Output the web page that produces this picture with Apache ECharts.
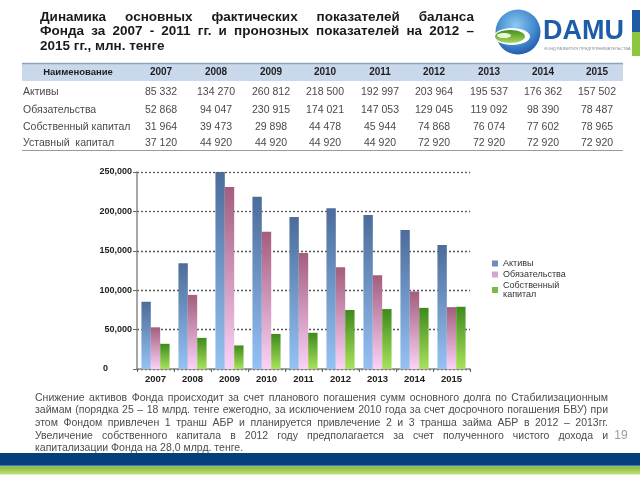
<!DOCTYPE html>
<html>
<head>
<meta charset="utf-8">
<script src="https://cdn.jsdelivr.net/npm/echarts@6/dist/echarts.min.js"></script>
<style>
html,body{margin:0;padding:0;background:#fff;}
#main{width:640px;height:480px;}
</style>
</head>
<body>
<div id="main"></div>
<script>
// ---- data ----
var years = ['2007','2008','2009','2010','2011','2012','2013','2014','2015'];
var assets = [85332, 134270, 260812, 218500, 192997, 203964, 195537, 176362, 157502];
var liabilities = [52868, 94047, 230915, 174021, 147053, 129045, 119092, 98390, 78487];
var equity = [31964, 39473, 29898, 44478, 45944, 74868, 76074, 77602, 78965];
var charterCapital = [37120, 44920, 44920, 44920, 44920, 72920, 72920, 72920, 72920];
var rowNames = ['Активы', 'Обязательства', 'Собственный капитал', 'Уставный  капитал'];
var headerName = 'Наименование';
var seriesNames = ['Активы', 'Обязательства', 'Собственный капитал'];
var yTicks = [0, 50000, 100000, 150000, 200000, 250000];

var titleLines = [
  'Динамика основных фактических показателей баланса',
  'Фонда за 2007 - 2011 гг. и пронозных показателей на 2012 –',
  '2015 гг., млн. тенге'
];
var paraLines = [
  'Снижение активов Фонда происходит за счет планового погашения сумм основного долга по Стабилизационным',
  'займам (порядка 25 – 18 млрд. тенге ежегодно, за исключением 2010 года за счет досрочного погашения БВУ) при',
  'этом Фондом привлечен 1 транш АБР и планируется привлечение 2 и 3 транша займа АБР в 2012 – 2013гг.',
  'Увеличение собственного капитала в 2012 году предполагается за счет полученного чистого дохода и',
  'капитализации Фонда на 28,0 млрд. тенге.'
];
var pageNo = '19';

// ---- helpers ----
var FF = '"Liberation Sans", Arial, sans-serif';
var mctx = document.createElement('canvas').getContext('2d');
function fmtSpace(v){ return String(v).replace(/\B(?=(\d{3})+(?!\d))/g, ' '); }
function fmtComma(v){ return String(v).replace(/\B(?=(\d{3})+(?!\d))/g, ','); }

function justify(text, x0, x1, y, size, weight, color, doJustify){
  var font = weight + ' ' + size + 'px ' + FF;
  mctx.font = font;
  var words = text.split(/\s+/);
  var els = [];
  if (!doJustify) {
    els.push({type:'text', x:x0, y:y, style:{text:text, font:font, fill:color, align:'left', verticalAlign:'middle'}});
    return els;
  }
  var widths = words.map(function(w){ return mctx.measureText(w).width; });
  var sum = widths.reduce(function(a,b){return a+b;},0);
  var gap = (x1 - x0 - sum) / (words.length - 1);
  var x = x0;
  words.forEach(function(w,i){
    els.push({type:'text', x:x, y:y, style:{text:w, font:font, fill:color, align:'left', verticalAlign:'middle'}});
    x += widths[i] + gap;
  });
  return els;
}

var graphics = [];
// title
titleLines.forEach(function(t,i){
  graphics = graphics.concat(justify(t, 40, 474, 17 + i*14.7, 13.5, 'bold', '#1a1a1a', i < 2));
});

// logo
graphics.push({type:'circle', shape:{cx:518, cy:32, r:22.5},
  style:{fill:new echarts.graphic.RadialGradient(0.45,0.35,0.75,[{offset:0,color:'#8cc8f2'},{offset:0.6,color:'#3f86cc'},{offset:1,color:'#17479a'}])}});
graphics.push({type:'ellipse', shape:{cx:512, cy:36.5, rx:18, ry:8.5}, style:{fill:'#ffffff'}});
graphics.push({type:'ellipse', shape:{cx:510, cy:36.5, rx:15, ry:6.5},
  style:{fill:new echarts.graphic.LinearGradient(0,0,0,1,[{offset:0,color:'#3f8f22'},{offset:1,color:'#a9d85a'}])}});
graphics.push({type:'ellipse', shape:{cx:504, cy:35.5, rx:7, ry:2.6}, style:{fill:'#e9f7d5'}});
graphics.push({type:'text', x:543, y:32, style:{text:'DAMU', font:'bold 27px ' + FF, fill:'#1d5ca8', align:'left', verticalAlign:'middle'}});
graphics.push({type:'text', x:544, y:49, style:{text:'ФОНД РАЗВИТИЯ ПРЕДПРИНИМАТЕЛЬСТВА', font:'4px ' + FF, fill:'#8a8a8a', align:'left', verticalAlign:'middle'}});
graphics.push({type:'rect', shape:{x:632, y:10, width:8, height:22}, style:{fill:'#1d5aa6'}});
graphics.push({type:'rect', shape:{x:632, y:32, width:8, height:24}, style:{fill:'#8cc63e'}});

// table
var colX = [161, 216, 271, 325, 380, 434, 489, 543, 597];
graphics.push({type:'rect', shape:{x:22, y:63, width:601, height:18}, style:{fill:'#c9d8eb'}});
graphics.push({type:'line', shape:{x1:22, y1:63.5, x2:623, y2:63.5}, style:{stroke:'#8da2c0', lineWidth:1.5}});
graphics.push({type:'line', shape:{x1:22, y1:150.5, x2:623, y2:150.5}, style:{stroke:'#9a9a9a', lineWidth:1}});
graphics.push({type:'text', x:78, y:72.5, style:{text:headerName, font:'bold 9.5px ' + FF, fill:'#1f1f1f', align:'center', verticalAlign:'middle'}});
years.forEach(function(yr,i){
  graphics.push({type:'text', x:colX[i], y:72.5, style:{text:yr, font:'bold 10px ' + FF, fill:'#1f1f1f', align:'center', verticalAlign:'middle'}});
});
var rows = [assets, liabilities, equity, charterCapital];
var rowY = [92.5, 110, 127.5, 143];
rows.forEach(function(r,ri){
  graphics.push({type:'text', x:23, y:rowY[ri], style:{text:rowNames[ri], font:'10.5px ' + FF, fill:'#4a4a4a', align:'left', verticalAlign:'middle'}});
  r.forEach(function(v,ci){
    graphics.push({type:'text', x:colX[ci], y:rowY[ri], style:{text:fmtSpace(v), font:'10.5px ' + FF, fill:'#4a4a4a', align:'center', verticalAlign:'middle'}});
  });
});

// paragraph
paraLines.forEach(function(t,i){
  graphics = graphics.concat(justify(t, 35, 608, 398 + i*12.6, 10.5, 'normal', '#4d4d4d', i < 4));
});
graphics.push({type:'text', x:621, y:436, style:{text:pageNo, font:'12px ' + FF, fill:'#9a9a9a', align:'center', verticalAlign:'middle'}});

// bottom bands
graphics.push({type:'rect', shape:{x:0, y:453, width:640, height:12}, style:{fill:'#053e7c'}});
graphics.push({type:'rect', shape:{x:0, y:465, width:640, height:1.5}, style:{fill:'#3f77a8'}});
graphics.push({type:'rect', shape:{x:0, y:466.5, width:640, height:8},
  style:{fill:new echarts.graphic.LinearGradient(0,0,0,1,[{offset:0,color:'#84bb33'},{offset:1,color:'#c4dd7a'}])}});

function vgrad(top, bottom){
  return new echarts.graphic.LinearGradient(0,0,0,1,[{offset:0,color:top},{offset:1,color:bottom}]);
}

var chart = echarts.init(document.getElementById('main'));
chart.setOption({
  animation:false,
  grid:{left:137, right:170, top:172, bottom:111, containLabel:false},
  legend:{
    orient:'vertical', left:487, top:254, icon:'rect', itemWidth:6, itemHeight:6, itemGap:2,
    textStyle:{fontSize:9, color:'#333', fontFamily:FF, lineHeight:9},
    formatter:function(n){ return n === seriesNames[2] ? 'Собственный\nкапитал' : n; },
    data:[
      {name:seriesNames[0], itemStyle:{color:'#6f8db8'}},
      {name:seriesNames[1], itemStyle:{color:'#d4a6d2'}},
      {name:seriesNames[2], itemStyle:{color:'#7db64a'}}
    ]
  },
  xAxis:{
    type:'category', data:years,
    axisLine:{lineStyle:{color:'#8a8a8a', width:1.5}},
    axisTick:{show:true, length:3, lineStyle:{color:'#666'}},
    axisLabel:{fontSize:9.5, fontWeight:'bold', color:'#222', fontFamily:FF, margin:5}
  },
  yAxis:{
    type:'value', min:yTicks[0], max:yTicks[yTicks.length-1], interval:yTicks[1]-yTicks[0],
    axisLine:{show:true, lineStyle:{color:'#8a8a8a', width:1.5}},
    axisTick:{show:true, length:4, lineStyle:{color:'#666'}},
    splitLine:{lineStyle:{color:'#555', type:[2,2], width:1.3}},
    axisLabel:{fontSize:9, fontWeight:'bold', color:'#222', fontFamily:FF, margin:5,
      formatter:function(v){ return v === 0 ? '{z|0}' : fmtComma(v); },
      rich:{z:{fontSize:9, fontWeight:'bold', color:'#222', fontFamily:FF, padding:[0,24,0,0]}}}
  },
  series:[
    {name:seriesNames[0], type:'bar', data:assets, barGap:'0%', barCategoryGap:'24%', clip:true,
      itemStyle:{color:vgrad('#4c6c9a','#95c2f3')}},
    {name:seriesNames[1], type:'bar', data:liabilities, clip:true,
      itemStyle:{color:vgrad('#a45d7d','#fbd2f7')}},
    {name:seriesNames[2], type:'bar', data:equity, clip:true,
      itemStyle:{color:vgrad('#3e8a1b','#a8e25c')}}
  ],
  graphic:{elements:graphics}
});
</script>
</body>
</html>
